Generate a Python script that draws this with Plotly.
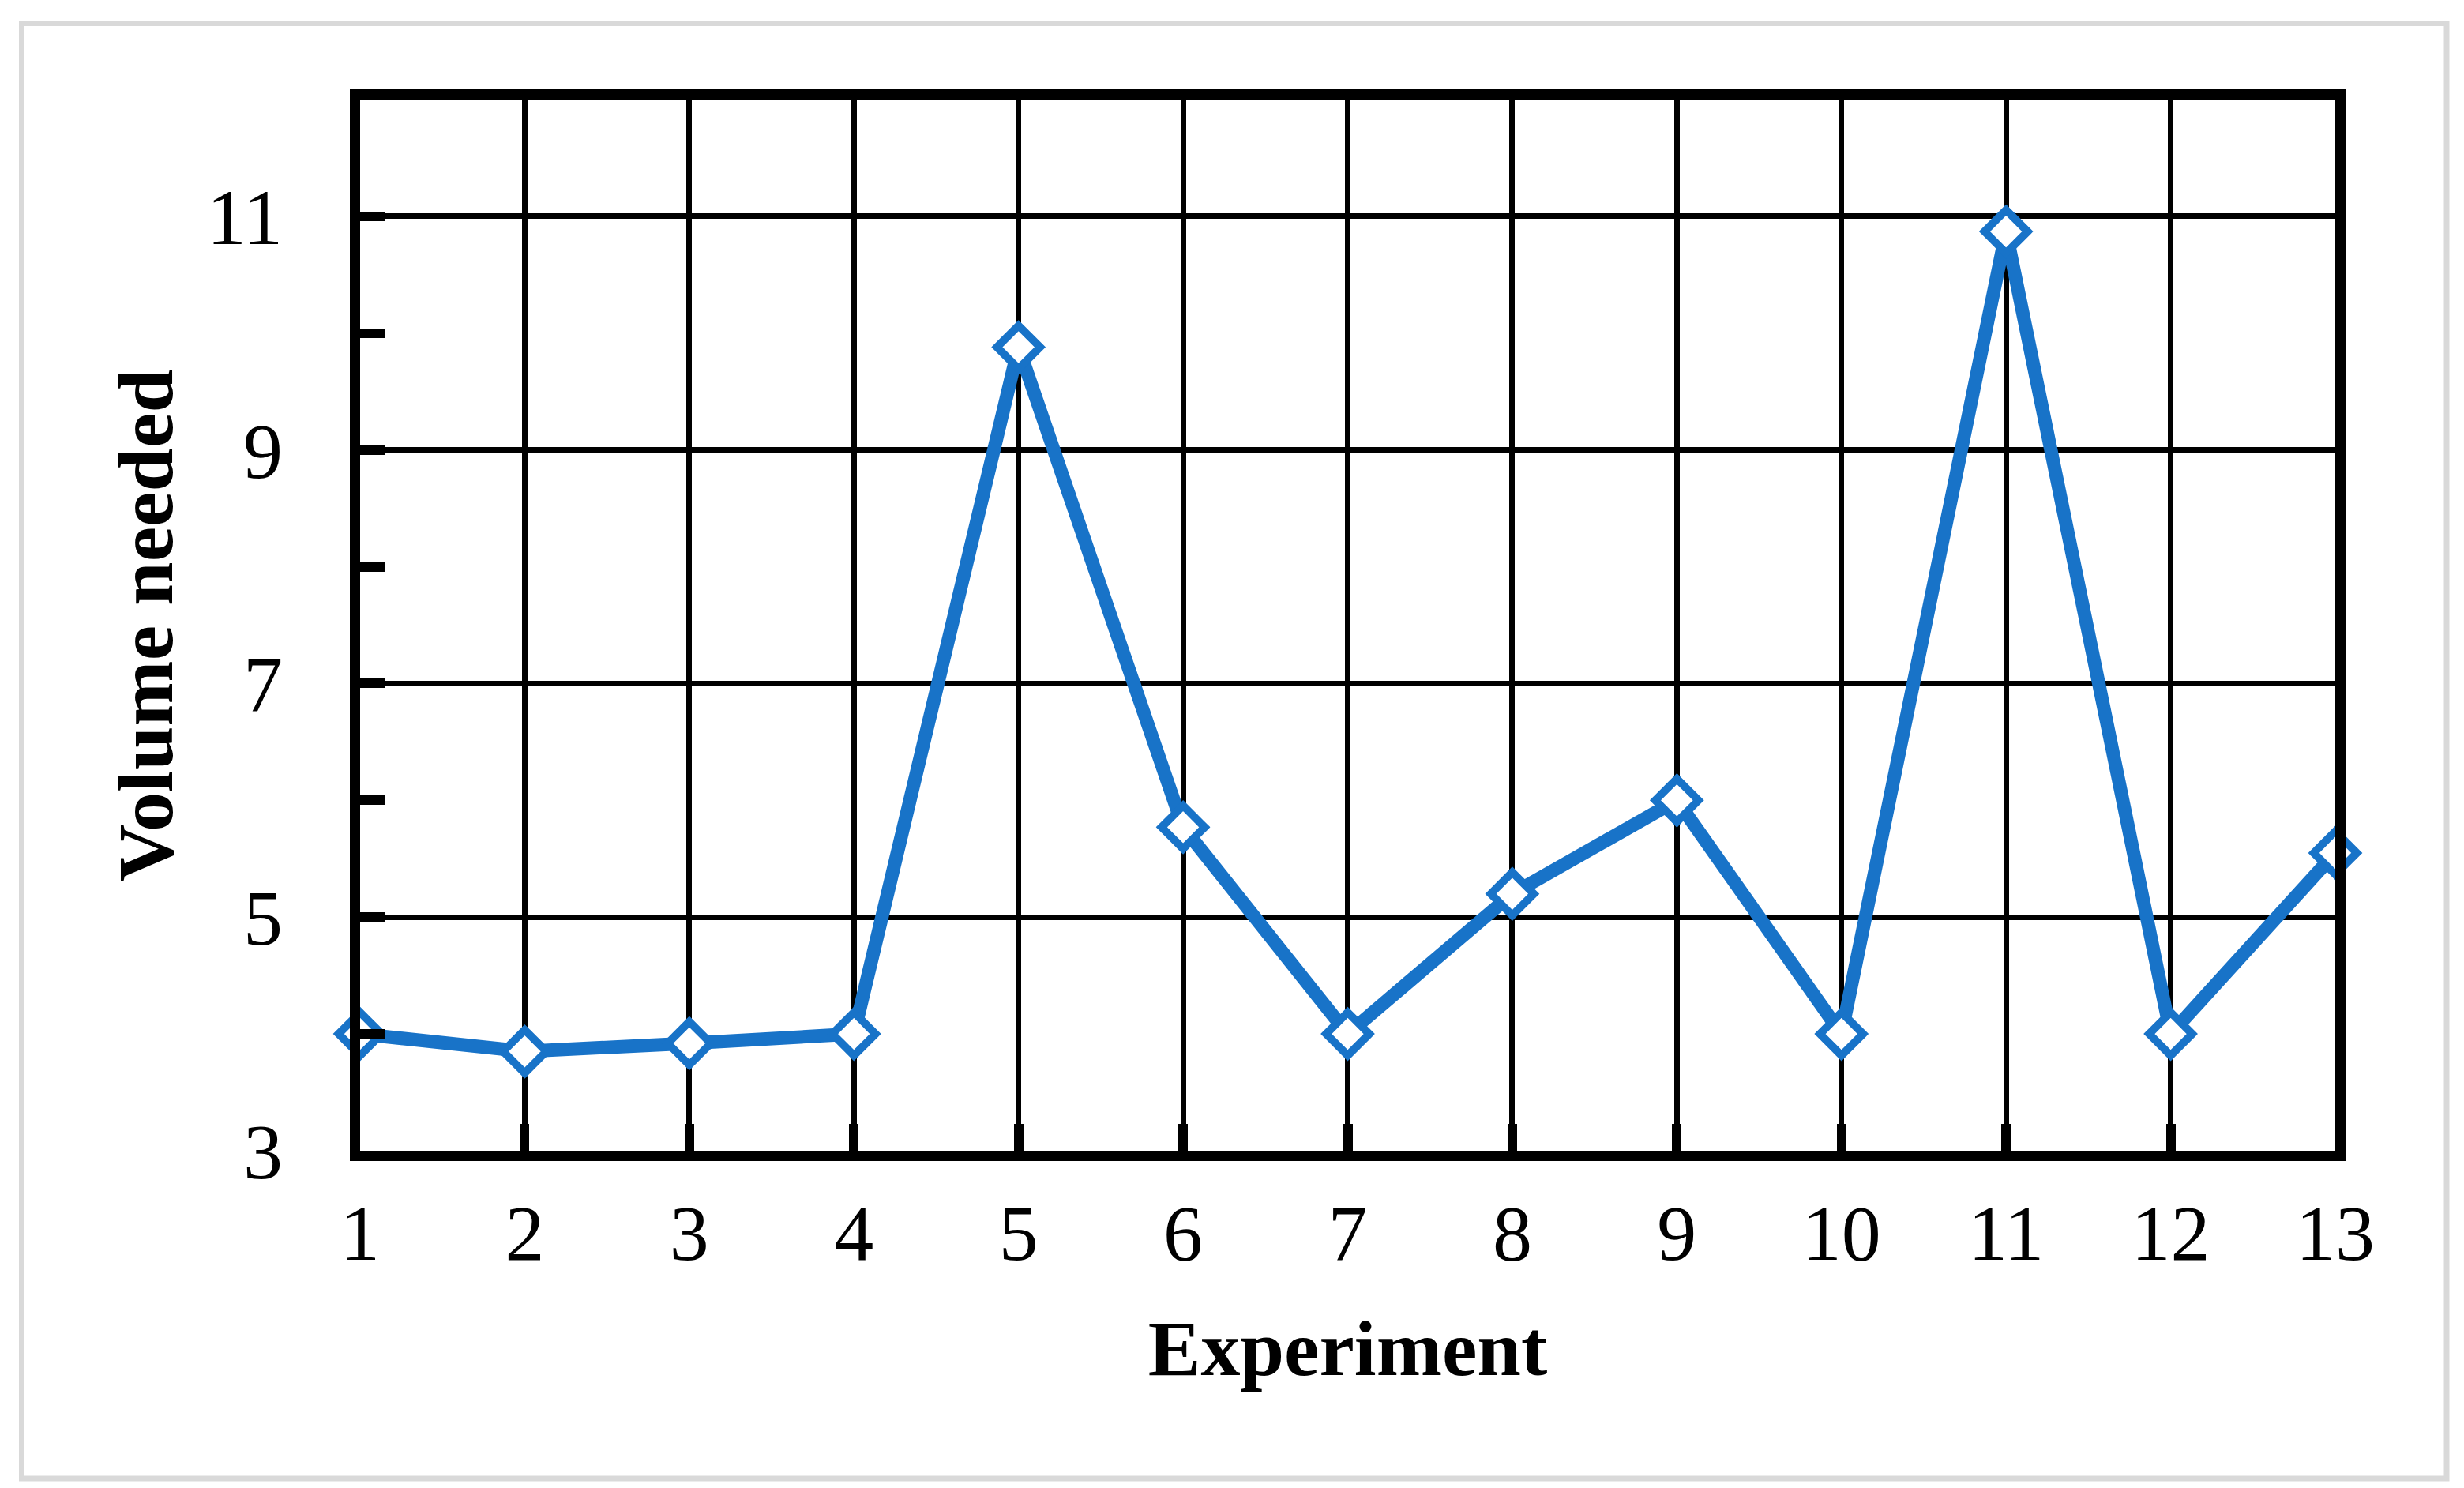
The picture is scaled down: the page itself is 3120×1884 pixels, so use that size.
import plotly.graph_objects as go

experiments = list(range(1, 14))
volume_needed = [4.0, 3.85, 3.92, 4.0, 9.88, 5.77, 4.0, 5.2, 6.0, 4.0, 10.87, 4.0, 5.55]

x_ticks = list(range(1, 14))
y_ticks = [3, 5, 7, 9, 11]
y_minor_ticks = [4, 6, 8, 10]

BLUE = "#1873C8"
FONT = "Liberation Serif"

fig = go.Figure()
fig.add_trace(go.Scatter(
    x=experiments, y=volume_needed, mode="lines+markers",
    line=dict(color=BLUE, width=17),
    marker=dict(symbol="diamond", size=42, color="white",
                line=dict(color=BLUE, width=10)),
    cliponaxis=False, showlegend=False,
))

L, R, T, B = 448, 171, 118, 435
W, H = 3120, 1884
pw, ph = W - L - R, H - T - B

fig.update_layout(
    width=W, height=H,
    margin=dict(l=L, r=R, t=T, b=B, pad=0),
    paper_bgcolor="white", plot_bgcolor="white",
    font=dict(family=FONT, color="black", size=100),
    shapes=[dict(type="rect", xref="paper", yref="paper",
                 x0=(19.5 - L) / pw, x1=(3090 - L) / pw,
                 y0=(H - B - 1864) / ph, y1=(H - B - 21.5) / ph,
                 line=dict(color="#D9D9D9", width=7), fillcolor="rgba(0,0,0,0)",
                 layer="below")],
)

fig.update_xaxes(
    range=[1, 13], tickmode="array", tickvals=x_ticks,
    ticktext=[str(v) for v in x_ticks],
    showgrid=True, gridcolor="black", gridwidth=7,
    showline=True, linecolor="black", linewidth=13, mirror=True,
    ticks="inside", ticklen=34, tickwidth=12, tickcolor="black",
    tickfont=dict(family=FONT, size=100), ticklabelstandoff=5,
    zeroline=False,
    title=dict(text="<b>Experiment</b>", font=dict(family=FONT, size=100), standoff=60),
)
fig.update_yaxes(
    range=[3, 12], tickmode="array", tickvals=y_ticks,
    ticktext=[str(v) for v in y_ticks],
    showgrid=True, gridcolor="black", gridwidth=7,
    showline=True, linecolor="black", linewidth=13, mirror=True,
    ticks="inside", ticklen=31, tickwidth=12, tickcolor="black",
    minor=dict(tickvals=y_minor_ticks, ticks="inside", ticklen=31, tickwidth=12,
               tickcolor="black", showgrid=False),
    tickfont=dict(family=FONT, size=100), ticklabelstandoff=65,
    zeroline=False,
    title=dict(text="<b>Volume needed</b>", font=dict(family=FONT, size=100), standoff=15),
)

fig.write_html("out.html")
